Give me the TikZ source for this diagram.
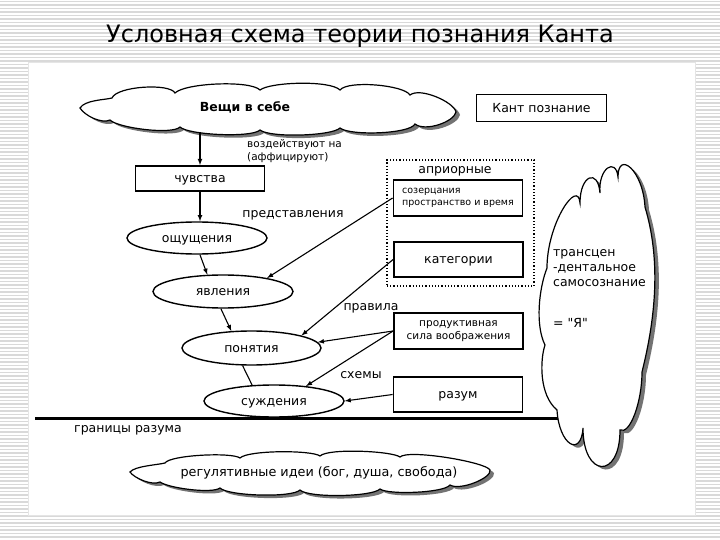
\documentclass[tikz,border=0pt]{standalone}
\usepackage{fontspec}
\setmainfont{DejaVu Sans}
\newfontfamily\straightquotes{DejaVu Sans}[Ligatures=TeXOff]
\usetikzlibrary{shapes.geometric,shadows,positioning}

\begin{document}
\begin{tikzpicture}[x=1pt,y=-1pt,
	box/.style={draw,line width=1.8pt,fill=white,inner sep=0pt,minimum width=129pt,minimum height=25pt,font=\fontsize{12.5}{15}\selectfont},
	oval/.style={ellipse,draw,line width=1.4pt,fill=white,inner sep=0pt,minimum width=140pt,minimum height=32pt,font=\fontsize{12.5}{15}\selectfont},
	mid/.style={text height=8.5pt,text depth=0pt},
	sky/.style={draw,line width=1.2pt,fill=white,drop shadow={shadow xshift=4pt,shadow yshift=-3pt,fill=black!55,opacity=1}},
	arr/.style={-latex,line width=1.1pt},
	lbl/.style={inner sep=0pt,font=\fontsize{12.5}{15}\selectfont}]
	\useasboundingbox (0,0) rectangle (720,540);
	\fill[white] (0,0) rectangle (720,540);
	\foreach \y in {1.5,5,...,540}
	\draw[black!15,line width=1.2pt] (0,\y) -- (720,\y);
	\fill[white] (28,62) rectangle (695,515);
	\draw[black!10] (28,62) rectangle (695,515);
	\node[font=\fontsize{24}{28}\selectfont] (title) at (360,36) {Условная схема теории познания Канта};

	\draw[sky] (80,108) .. controls +(5,-8) and +(-8,2) .. (112,98)
		.. controls +(5,-12) and +(-5,-10) .. (175,93)
		.. controls +(10,-10) and +(-10,-10) .. (260,90)
		.. controls +(10,-8) and +(-10,-10) .. (340,90)
		.. controls +(8,-10) and +(-6,-10) .. (410,95)
		.. controls +(10,-8) and +(-2,-10) .. (456,112)
		.. controls +(-2,10) and +(10,8) .. (415,124)
		.. controls +(-5,10) and +(10,8) .. (340,128)
		.. controls +(-8,8) and +(10,8) .. (260,130)
		.. controls +(-8,8) and +(8,8) .. (180,127)
		.. controls +(-8,8) and +(8,8) .. (110,120)
		.. controls +(-8,4) and +(5,8) .. (80,108) -- cycle;
	\coordinate (things foot) at (200,132);
	\node[lbl,font=\bfseries\fontsize{12.5}{15}\selectfont] (thingstext) at (245,107) {Вещи в себе};
	\node[box,mid,minimum width=130pt,minimum height=27pt] (kant) at (541.5,108) {Кант познание};

	\node[box,mid] (feel) at (200,178.5) {чувства};
	\node[oval,mid] (sens) at (197,238) {ощущения};
	\node[oval,mid,minimum height=33pt] (phen) at (223,291.5) {явления};
	\node[oval,mid,minimum width=139pt,minimum height=34pt] (conc) at (251.5,348) {понятия};
	\node[oval,mid] (judg) at (274,401) {суждения};

	\node[draw,dotted,line width=1.2pt,minimum width=147pt,minimum height=126pt] (apriori) at (460.5,223) {};
	\node[lbl] (aprioritext) at (455,171) {априорные};
	\node[box,minimum height=36pt,align=left,font=\fontsize{9.5}{11.5}\selectfont] (intu) at (458,198) {созерцания\\пространство и время};
	\node[box,mid,minimum height=35pt] (cat) at (458.5,259.5) {категории};
	\node[box,minimum height=36pt,align=center,font=\fontsize{10.5}{13}\selectfont] (imag) at (458.5,331) {продуктивная\\сила воображения};
	\node[box,mid,minimum height=35pt] (reas) at (458,394.5) {разум};

	\node[lbl,anchor=west,align=left,font=\fontsize{10.5}{13}\selectfont] (affect) at (247,151) {воздействуют на\\(аффицируют)};
	\node[lbl] (repr) at (293,215) {представления};
	\node[lbl] (rules) at (371,308) {правила};
	\node[lbl] (schem) at (361,375) {схемы};
	\node[lbl] (limit) at (128,430) {границы разума};

	\draw[line width=3pt] (35,418) coordinate (limit left) -- (560,418) coordinate (limit right);

	\draw[sky] (547,268) .. controls +(0,-45) and +(-2,-25) .. (580,203)
		.. controls +(0,-28) and +(-2,-25) .. (600,193)
		.. controls +(-2,-25) and +(-2,-20) .. (618,177)
		.. controls +(0,-27) and +(-2,-37) .. (645,207)
		.. controls +(15,50) and +(15,-60) .. (642,372)
		.. controls +(0,30) and +(10,5) .. (620,430)
		.. controls +(0,50) and +(0,50) .. (583,428)
		.. controls +(-2,30) and +(2,35) .. (557,410)
		.. controls +(-18,-15) and +(-5,15) .. (545,345)
		.. controls +(-10,-20) and +(-8,20) .. (547,268) -- cycle;
	\node[lbl,align=left,anchor=north west] (selftext) at (553,249) {трансцен\\-дентальное\\самосознание\\[26pt]{\straightquotes = "Я"}};

	\draw[sky] (130,472) .. controls +(5,-6) and +(-8,2) .. (165,463)
		.. controls +(5,-8) and +(-8,-6) .. (240,458)
		.. controls +(8,-8) and +(-8,-6) .. (320,456)
		.. controls +(8,-8) and +(-8,-6) .. (400,457)
		.. controls +(8,-8) and +(-4,-8) .. (490,470)
		.. controls +(2,8) and +(10,6) .. (450,485)
		.. controls +(-6,8) and +(8,6) .. (380,489)
		.. controls +(-8,8) and +(8,8) .. (300,490)
		.. controls +(-8,8) and +(8,8) .. (220,488)
		.. controls +(-8,6) and +(8,6) .. (160,482)
		.. controls +(-8,4) and +(4,6) .. (130,472) -- cycle;
	\node[lbl,font=\fontsize{12.8}{15}\selectfont] (ideastext) at (319,473) {регулятивные идеи (бог, душа, свобода)};

	\draw[arr] (things foot) -- (feel.north);
	\draw[arr] (feel.south) -- (feel.south |- sens.north);
	\draw[arr] (sens.-80) -- (phen.133);
	\draw[arr] (phen.-97) -- (conc.140);
	\draw[line width=1.1pt] (conc.-117) -- (judg.144);
	\draw[arr] (intu.west) -- (phen.17);
	\draw[arr] (cat.west) -- (conc.14);
	\draw[arr] (imag.west) -- (conc.5);
	\draw[arr] (imag.west) -- (judg.25);
	\draw[arr] (reas.west) -- (judg.east);
\end{tikzpicture}
\end{document}
